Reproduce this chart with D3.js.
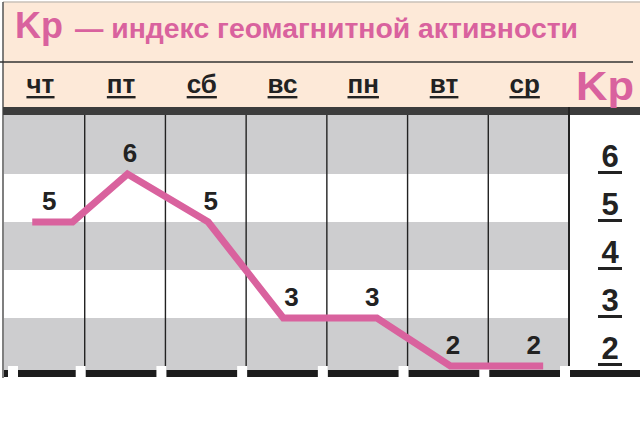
<!DOCTYPE html>
<html><head><meta charset="utf-8">
<script src="https://cdn.jsdelivr.net/npm/d3@7/dist/d3.min.js"></script>
<style>html,body{margin:0;padding:0;background:#fff;}svg{display:block;}</style>
</head><body>
<svg id="c" width="640" height="424"></svg>
<script>
// ---- data ----
const days = ["чт","пт","сб","вс","пн","вт","ср"];
const dayKp = [5,6,5,3,3,2,2];
// Kp line through the week (time in days from start of чт)
const lineT  = [0.35,0.85,1.53,2.53,3.46,4.62,5.53,6.68];
const lineKp = [5,5,6,5,3,3,2,2];
const kpTicks = [6,5,4,3,2];
const grayBands = [[2,3],[4,5],[6,7.23]];
const titleMain = "Kp";
const titleRest = "— индекс геомагнитной активности";
const axisTitle = "Kp";

const pink = "#d9629e", ink = "#222";
const svg = d3.select("#c");
const F = "'Liberation Sans', Arial, sans-serif";

const x = d3.scaleLinear().domain([0,7]).range([4,569]);
const y = d3.scaleLinear().domain([2,6]).range([366,174]);

// header
svg.append("rect").attr("x",3).attr("y",2).attr("width",637).attr("height",106).attr("fill","#fde9d8");
svg.append("line").attr("x1",3).attr("x2",640).attr("y1",2).attr("y2",2).attr("stroke","#c8c0b8").attr("stroke-width",1.5);
svg.append("line").attr("x1",3).attr("x2",3).attr("y1",2).attr("y2",378).attr("stroke","#555").attr("stroke-width",1.5);
svg.append("line").attr("x1",0).attr("x2",633).attr("y1",62).attr("y2",62).attr("stroke","#333").attr("stroke-width",1.6);

svg.append("text").attr("x",15).attr("y",38).attr("font-family",F).attr("font-weight","bold")
  .attr("font-size",37).attr("fill",pink).attr("textLength",48).attr("lengthAdjust","spacingAndGlyphs").text(titleMain);
svg.append("text").attr("x",75).attr("y",38).attr("font-family",F).attr("font-weight","bold")
  .attr("font-size",27).attr("fill",pink).attr("textLength",503).attr("lengthAdjust","spacingAndGlyphs").text(titleRest);

// plot background stripes
svg.append("rect").attr("x",x(0)).attr("y",y(7.23)).attr("width",x(7)-x(0)).attr("height",y(2)-y(7.23)+4).attr("fill","#fff");
svg.selectAll("rect.band").data(grayBands).join("rect").attr("class","band")
  .attr("x",x(0)).attr("width",x(7)-x(0))
  .attr("y",d=>y(d[1])).attr("height",d=>y(d[0])-y(d[1])+ (d[0]===2?4:0))
  .attr("fill","#cdcdcf");

// top dark bar
svg.append("rect").attr("x",3).attr("y",107).attr("width",637).attr("height",8).attr("fill","#3c3c3c");

// vertical column lines
svg.selectAll("line.col").data(d3.range(1,7)).join("line").attr("class","col")
  .attr("x1",d=>x(d)).attr("x2",d=>x(d)).attr("y1",115).attr("y2",370)
  .attr("stroke","#222").attr("stroke-width",1.4);
svg.append("line").attr("x1",x(7)).attr("x2",x(7)).attr("y1",107).attr("y2",372)
  .attr("stroke","#222").attr("stroke-width",2);

// bottom bar with gaps
svg.append("rect").attr("x",4).attr("y",370).attr("width",636).attr("height",7).attr("fill","#1c1c1c");
const gapCenters = [x(0)+9].concat(d3.range(1,8).map(i=>x(i)-4));
svg.selectAll("rect.gap").data(gapCenters).join("rect").attr("class","gap")
  .attr("x",d=>d-5).attr("y",366).attr("width",10).attr("height",12).attr("fill","#fff");

// day labels
const dl = svg.selectAll("g.day").data(days).join("g").attr("class","day");
dl.append("text").attr("x",(d,i)=>x(i+0.5)-4).attr("y",93).attr("text-anchor","middle")
  .attr("font-family",F).attr("font-weight","bold").attr("font-size",26).attr("fill",ink).text(d=>d);
dl.each(function(){
  const t = d3.select(this).select("text").node().getBBox();
  d3.select(this).append("rect").attr("x",t.x).attr("y",96).attr("width",t.width).attr("height",2.4).attr("fill",ink);
});

// axis title Kp (right)
svg.append("text").attr("x",576).attr("y",100).attr("font-family",F).attr("font-weight","bold")
  .attr("font-size",40).attr("fill",pink).attr("textLength",58).attr("lengthAdjust","spacingAndGlyphs").text(axisTitle);

// the line
const line = d3.line().x((d,i)=>x(lineT[i])).y(d=>y(d));
svg.append("path").datum(lineKp).attr("d",line).attr("fill","none")
  .attr("stroke",pink).attr("stroke-width",7).attr("stroke-linejoin","miter");

// value labels
svg.selectAll("text.val").data(dayKp).join("text").attr("class","val")
  .attr("x",(d,i)=>x(i+0.5)+5).attr("y",d=>y(d)-12).attr("text-anchor","middle")
  .attr("font-family",F).attr("font-weight","bold").attr("font-size",26).attr("fill",ink).text(d=>d);

// right Kp scale labels
const rk = svg.selectAll("g.rk").data(kpTicks).join("g").attr("class","rk");
rk.append("text").attr("x",610).attr("y",d=>y(d)-7).attr("text-anchor","middle")
  .attr("font-family",F).attr("font-weight","bold").attr("font-size",31).attr("fill",ink).text(d=>d);
rk.append("rect").attr("x",598).attr("y",d=>y(d)-3).attr("width",24).attr("height",3).attr("fill",ink);
</script>
</body></html>
